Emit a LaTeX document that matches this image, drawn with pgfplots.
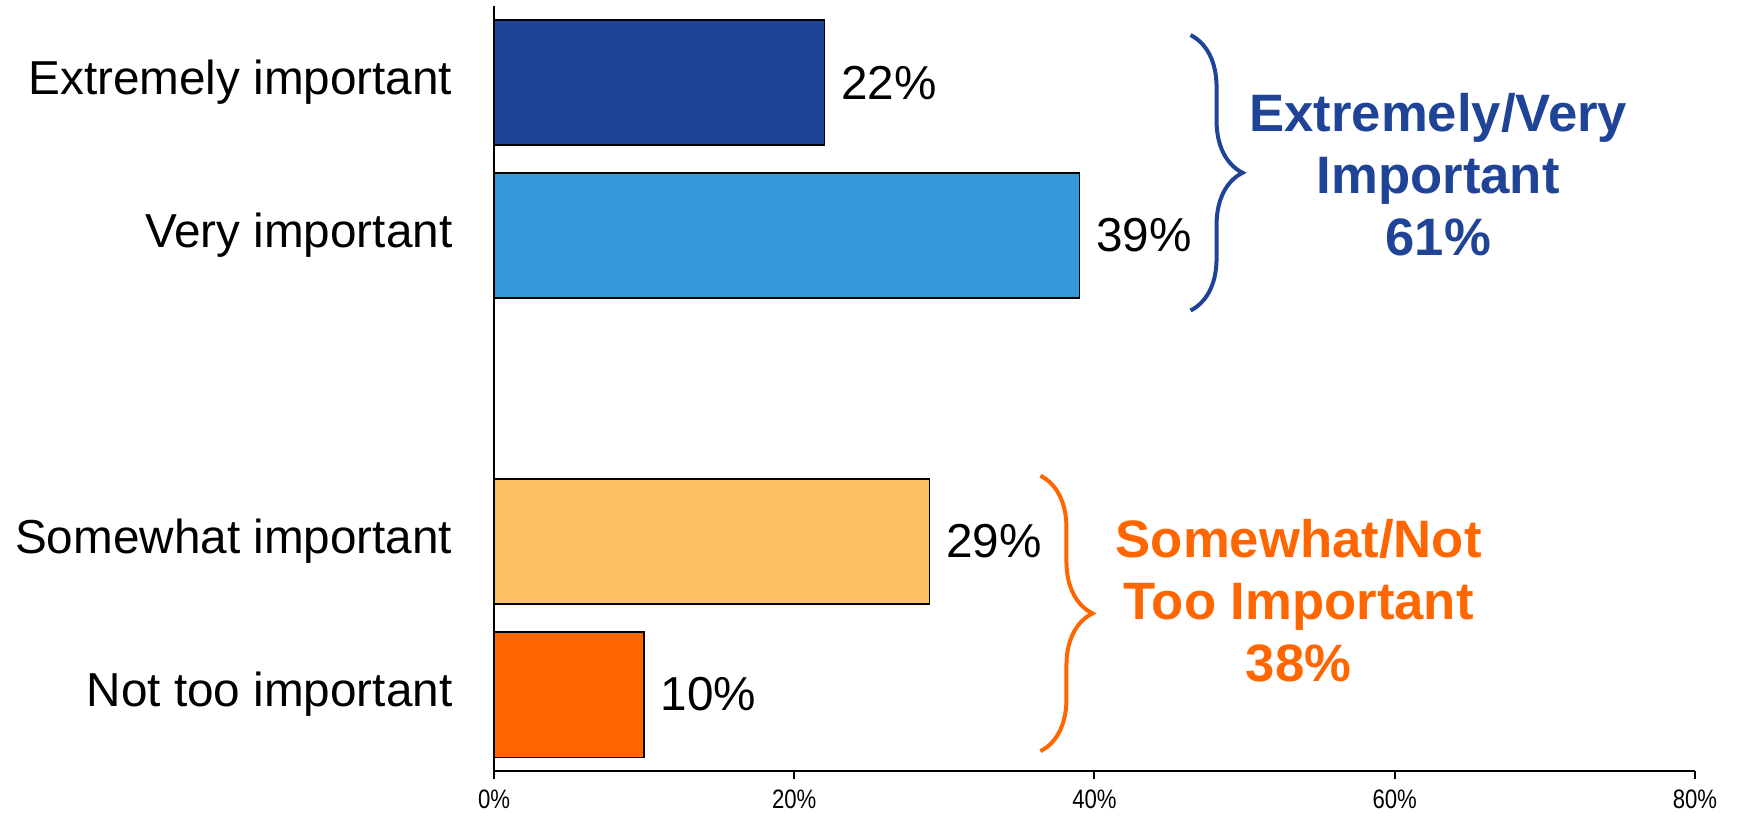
\documentclass[border=0pt]{standalone}
\usepackage{pgfplots}
\pgfplotsset{compat=1.18}
\usetikzlibrary{decorations.pathreplacing}
\usepackage{fontspec}
\setmainfont{Liberation Sans}
\newfontfamily\narrowfont[FakeStretch=0.83]{Liberation Sans}
\definecolor{cDark}{RGB}{31,67,150}
\definecolor{cLight}{RGB}{52,152,219}
\definecolor{cPeach}{RGB}{253,191,99}
\definecolor{cOrange}{RGB}{255,102,0}
\begin{document}
\begin{tikzpicture}
\useasboundingbox (-148.2pt,-13.5pt) rectangle (372.9pt,231.3pt);
\begin{axis}[
  scale only axis, width=360.3pt, height=229.5pt,
  at={(0,0)}, anchor=south west,
  xbar, bar width=0.82,
  xmin=0, xmax=80, ymin=-0.5, ymax=4.5,
  axis x line=bottom, axis y line=left,
  axis line style={-, line width=0.6pt},
  xtick={0,20,40,60,80},
  xticklabel={\pgfmathprintnumber{\tick}\%},
  xtick style={draw=black, line width=0.6pt},
  tick align=outside, major tick length=2.4pt,
  xticklabel style={font=\narrowfont\fontsize{8}{9}\selectfont, inner sep=0pt, yshift=-3pt},
  ytick={0,1,3,4},
  yticklabels={Not too important, Somewhat important, Very important, Extremely important},
  ytick style={draw=none},
  yticklabel style={font=\fontsize{14.3}{16}\selectfont, inner sep=0pt, xshift=-9.9pt},
  /pgf/number format/assume math mode=true,
  point meta=x,
  nodes near coords={\pgfmathprintnumber{\pgfplotspointmeta}\%},
  nodes near coords style={font=\fontsize{14.3}{16}\selectfont, anchor=west, inner sep=0pt, xshift=4.8pt, text=black},
  clip=false,
]
\addplot[fill=cDark, draw=black, line width=0.45pt, bar shift=0pt] coordinates {(22,4)};
\addplot[fill=cLight, draw=black, line width=0.45pt, bar shift=0pt] coordinates {(39,3)};
\addplot[fill=cPeach, draw=black, line width=0.45pt, bar shift=0pt] coordinates {(29,1)};
\addplot[fill=cOrange, draw=black, line width=0.45pt, bar shift=0pt] coordinates {(10,0)};

\draw[cDark, line width=1.2pt, decorate, decoration={brace, amplitude=15.6pt}] (axis cs:46.4,4.31) -- (axis cs:46.4,2.51);
\node[text=cDark, font=\bfseries\fontsize{15.8}{18.6}\selectfont, align=center] at (axis cs:62.9,3.40) {Extremely/Very\\Important\\61\%};
\draw[cOrange, line width=1.2pt, decorate, decoration={brace, amplitude=15.6pt}] (axis cs:36.4,1.43) -- (axis cs:36.4,-0.37);
\node[text=cOrange, font=\bfseries\fontsize{15.8}{18.6}\selectfont, align=center] at (axis cs:53.6,0.615) {Somewhat/Not\\Too Important\\38\%};
\end{axis}
\end{tikzpicture}
\end{document}
